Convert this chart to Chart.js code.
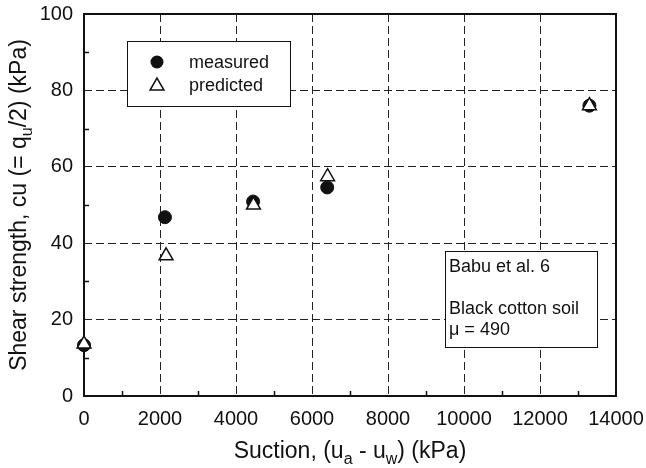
<!DOCTYPE html><html lang="en">
<head>
  <meta charset="UTF-8">
  <title>Shear strength vs suction</title>
  <script src="https://cdn.jsdelivr.net/npm/chart.js"></script>
  <style>
    body { margin: 0; background: #fff; }
    #wrap { width: 646px; height: 468px; }
  </style>
</head>
<body>
  <div id="wrap"><canvas id="cuChart"></canvas></div>
  <script>
    // values
    const suctionMeasured = [0, 2130, 4450, 6400, 13300];
    const cuMeasured = [13.3, 46.8, 50.9, 54.6, 76.0];
    const suctionPredicted = [0, 2160, 4460, 6410, 13300];
    const cuPredicted = [13.6, 36.7, 50.0, 57.4, 76.0];
    const xMinorTicks = [1000, 3000, 5000, 7000, 9000, 11000, 13000];
    const yMinorTicks = [10, 30, 50, 70, 90];
    const noteLines = ["Babu et al. 6", "", "Black cotton soil", "\u03bc = 490"];

    const FONT = '"Liberation Sans", Arial, Helvetica, sans-serif';
    const ink = '#111';

    function toPoints(xs, ys) {
      return xs.map((x, i) => ({ x: x, y: ys[i] }));
    }

    // draw a run of text pieces, some of them subscripts
    function drawRich(ctx, parts, x, y, size, align) {
      const subSize = Math.round(size * 0.7);
      let total = 0;
      parts.forEach(p => {
        ctx.font = (p.sub ? subSize : size) + 'px ' + FONT;
        p.w = ctx.measureText(p.t).width;
        total += p.w;
      });
      let cx = align === 'center' ? x - total / 2 : x;
      ctx.textAlign = 'left';
      ctx.textBaseline = 'alphabetic';
      parts.forEach(p => {
        ctx.font = (p.sub ? subSize : size) + 'px ' + FONT;
        ctx.fillText(p.t, cx, p.sub ? y + 6 : y);
        cx += p.w;
      });
    }

    const framePlugin = {
      id: 'frame',
      beforeDatasetsDraw(chart) {
        // frame and minor ticks go under the markers
        const ctx = chart.ctx;
        const a = chart.chartArea;
        const xs = chart.scales.x, ys = chart.scales.y;
        ctx.save();
        ctx.strokeStyle = ink;
        ctx.lineWidth = 1.5;
        ctx.beginPath();
        xMinorTicks.forEach(v => {
          const px = Math.round(xs.getPixelForValue(v)) + 0.5;
          ctx.moveTo(px, a.bottom);
          ctx.lineTo(px, a.bottom - 5);
        });
        yMinorTicks.forEach(v => {
          const py = Math.round(ys.getPixelForValue(v)) + 0.5;
          ctx.moveTo(a.left, py);
          ctx.lineTo(a.left + 5, py);
        });
        ctx.stroke();
        ctx.lineWidth = 2;
        ctx.strokeRect(a.left, a.top, a.right - a.left, a.bottom - a.top);
        ctx.restore();
      },
      afterDraw(chart) {
        const ctx = chart.ctx;
        const a = chart.chartArea;
        ctx.save();
        ctx.strokeStyle = ink;

        // legend
        ctx.lineWidth = 1;
        ctx.fillStyle = '#fff';
        ctx.fillRect(127.5, 41.5, 163, 65);
        ctx.strokeRect(127.5, 41.5, 163, 65);
        const ds = chart.data.datasets;
        ctx.fillStyle = ink;
        ctx.beginPath();
        ctx.arc(157, 62, 6.5, 0, Math.PI * 2);
        ctx.fill();
        ctx.fillStyle = '#fff';
        ctx.lineWidth = 1.5;
        Chart.helpers.drawPoint(ctx, {
          pointStyle: 'triangle', radius: 8, borderWidth: 1.5
        }, 157, 86);
        ctx.fillStyle = ink;
        ctx.font = '18px ' + FONT;
        ctx.textAlign = 'left';
        ctx.textBaseline = 'middle';
        ctx.fillText(ds[0].label, 189, 63);
        ctx.fillText(ds[1].label, 189, 86);

        // note box
        ctx.fillStyle = '#fff';
        ctx.fillRect(445.5, 251.5, 152, 96);
        ctx.lineWidth = 1;
        ctx.strokeRect(445.5, 251.5, 152, 96);
        ctx.fillStyle = ink;
        ctx.font = '18px ' + FONT;
        noteLines.forEach((t, i) => {
          ctx.fillText(t, 449, 267 + i * 21);
        });

        // axis titles
        drawRich(ctx, [
          { t: 'Suction, (u' }, { t: 'a', sub: true }, { t: ' - u' },
          { t: 'w', sub: true }, { t: ') (kPa)' }
        ], (a.left + a.right) / 2, 458, 23, 'center');

        ctx.save();
        ctx.translate(26, (a.top + a.bottom) / 2);
        ctx.rotate(-Math.PI / 2);
        drawRich(ctx, [
          { t: 'Shear strength, cu (= q' }, { t: 'u', sub: true }, { t: '/2) (kPa)' }
        ], 0, 0, 23, 'center');
        ctx.restore();

        ctx.restore();
      }
    };

    const gridStyle = {
      color: '#222',
      lineWidth: 1,
      drawTicks: false,
      tickLength: 0
    };
    // v4 takes the grid line dash from the border options
    const borderStyle = { display: false, dash: [8, 4] };

    new Chart(document.getElementById('cuChart').getContext('2d'), {
      type: 'scatter',
      data: {
        datasets: [{
          label: 'measured',
          data: toPoints(suctionMeasured, cuMeasured),
          pointStyle: 'circle',
          pointRadius: 6.5,
          pointHoverRadius: 6.5,
          backgroundColor: ink,
          borderColor: ink,
          borderWidth: 1,
          clip: false,
          order: 2
        }, {
          label: 'predicted',
          data: toPoints(suctionPredicted, cuPredicted),
          pointStyle: 'triangle',
          pointRadius: 8,
          pointHoverRadius: 8,
          backgroundColor: '#fff',
          borderColor: ink,
          borderWidth: 1.5,
          clip: false,
          order: 1
        }]
      },
      options: {
        responsive: true,
        maintainAspectRatio: false,
        animation: false,
        layout: { padding: { top: 14, right: 30, left: 0, bottom: 0 } },
        plugins: {
          legend: { display: false },
          tooltip: { enabled: false }
        },
        scales: {
          x: {
            type: 'linear',
            min: 0,
            max: 14000,
            afterFit(scale) {
              scale.height = 72;
              scale.paddingLeft = 0;
              scale.paddingRight = 0;
            },
            border: borderStyle,
            grid: gridStyle,
            ticks: {
              stepSize: 2000,
              padding: 11,
              color: ink,
              maxRotation: 0,
              font: { family: FONT, size: 20 },
              callback: v => String(v)
            },
            title: { display: false }
          },
          y: {
            type: 'linear',
            min: 0,
            max: 100,
            afterFit(scale) {
              scale.width = 84;
              scale.paddingTop = 0;
              scale.paddingBottom = 0;
            },
            border: borderStyle,
            grid: gridStyle,
            ticks: {
              stepSize: 20,
              padding: 11,
              color: ink,
              font: { family: FONT, size: 20 },
              callback: v => String(v)
            },
            title: { display: false }
          }
        }
      },
      plugins: [framePlugin]
    });
  </script>
</body>
</html>
